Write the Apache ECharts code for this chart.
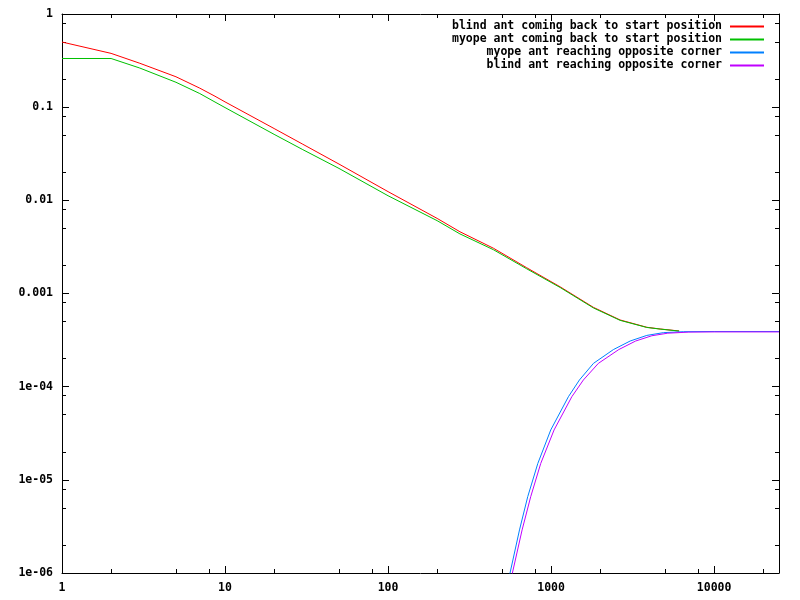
<!DOCTYPE html>
<html>
<head>
<meta charset="utf-8">
<script src="https://cdn.jsdelivr.net/npm/echarts@6/dist/echarts.min.js"></script>
<style>html,body{margin:0;padding:0;background:#fff}#chart{width:800px;height:600px}</style>
</head>
<body>
<div id="chart"></div>
<script>
// ---- data ----
const seriesNames = [
  'blind ant coming back to start position',
  'myope ant coming back to start position',
  'myope ant reaching opposite corner',
  'blind ant reaching opposite corner'
];
const backX = [1, 2, 3, 5, 7, 8.68, 10, 20, 30, 50, 100, 200, 276, 443, 709, 1136, 1818, 2650, 3865, 4665, 6100];
const blindBackY = [0.5, 0.378, 0.296, 0.212, 0.160, 0.131, 0.114, 0.0590, 0.0400, 0.0245, 0.0124, 0.0064, 0.0046, 0.00306, 0.00189, 0.00118, 7.1e-4, 5.2e-4, 4.34e-4, 4.16e-4, 3.96e-4];
const myopeBackY = [0.333, 0.333, 0.263, 0.185, 0.140, 0.1135, 0.0990, 0.0511, 0.0350, 0.0220, 0.0112, 0.00605, 0.00436, 0.00295, 0.00184, 0.00116, 7.0e-4, 5.15e-4, 4.32e-4, 4.15e-4, 3.95e-4];
const myopeCornerX = [500, 560, 640, 719, 829, 995, 1277, 1492, 1820, 2411, 3054, 3865, 4887, 6500, 10000, 25000];
const myopeCornerY = [4e-7, 1e-6, 2.9e-6, 6.6e-6, 1.5e-5, 3.43e-5, 7.8e-5, 1.18e-4, 1.78e-4, 2.5e-4, 3.09e-4, 3.55e-4, 3.8e-4, 3.89e-4, 3.91e-4, 3.91e-4];
const blindCornerX = [520, 579, 664, 750, 864, 1043, 1340, 1578, 1951, 2600, 3300, 4150, 5200, 7000, 10000, 25000];
const blindCornerY = [4e-7, 1e-6, 2.9e-6, 6.6e-6, 1.5e-5, 3.43e-5, 7.8e-5, 1.18e-4, 1.78e-4, 2.5e-4, 3.09e-4, 3.52e-4, 3.75e-4, 3.85e-4, 3.87e-4, 3.87e-4];

const xMin = 1, xMax = 25000, yMin = 1e-6, yMax = 1;
const xTickValues = [1, 10, 100, 1000, 10000];
const xTickLabels = ['1', '10', '100', '1000', '10000'];
const yTickValues = [1e-6, 1e-5, 1e-4, 1e-3, 1e-2, 1e-1, 1];
const yTickLabels = ['1e-06', '1e-05', '1e-04', '0.001', '0.01', '0.1', '1'];
const xMinorTicks = [2, 5, 8, 20, 50, 80, 200, 500, 800, 2000, 5000, 8000, 20000];
const yMinorTicks = [2e-6, 5e-6, 8e-6, 2e-5, 5e-5, 8e-5, 2e-4, 5e-4, 8e-4, 2e-3, 5e-3, 8e-3, 0.02, 0.05, 0.08, 0.2, 0.5, 0.8];
const colors = ['#ff0000', '#00c000', '#0080ff', '#c000ff'];

// ---- chart ----
const FONT = '"DejaVu Sans Mono", "Liberation Mono", monospace';
function pairs(xs, ys) { return xs.map((x, i) => [x, ys[i]]); }
function nearestLabel(vals, labels, v) {
  let best = 0, bd = Infinity;
  vals.forEach((t, i) => { const d = Math.abs(Math.log10(t) - Math.log10(v)); if (d < bd) { bd = d; best = i; } });
  return bd < 0.01 ? labels[best] : '';
}
const lineCol = '#000';
function mkX(pos, opts) {
  return Object.assign({
    type: 'log', logBase: 10, min: xMin, max: xMax, position: pos, gridIndex: 0,
    splitLine: { show: false },
    axisLine: { show: true, onZero: false, lineStyle: { color: lineCol, width: 1 } },
    axisTick: { show: true, inside: true, length: 7, lineStyle: { color: lineCol, width: 1 } },
    axisLabel: { show: false },
    minorTick: { show: false }
  }, opts || {});
}
function mkY(pos, opts) {
  return Object.assign({
    type: 'log', logBase: 10, min: yMin, max: yMax, position: pos, gridIndex: 0,
    splitLine: { show: false },
    axisLine: { show: true, onZero: false, lineStyle: { color: lineCol, width: 1 } },
    axisTick: { show: true, inside: true, length: 7, lineStyle: { color: lineCol, width: 1 } },
    axisLabel: { show: false },
    minorTick: { show: false }
  }, opts || {});
}
const labelStyle = { fontFamily: FONT, fontWeight: 'bold', fontSize: 11.5, color: '#000' };
const minorTickStyle = (vals) => ({ show: true, inside: true, length: 4, customValues: vals, lineStyle: { color: lineCol, width: 1 } });

const chart = echarts.init(document.getElementById('chart'), null, { renderer: 'canvas' });
chart.setOption({
  animation: false,
  backgroundColor: '#fff',
  color: colors,
  grid: { left: 62, right: 21, top: 14, bottom: 27, containLabel: false },
  legend: {
    orient: 'vertical', align: 'right', right: 35, top: 20, padding: 0,
    itemWidth: 34, itemHeight: 10, itemGap: 0,
    itemStyle: { opacity: 0 },
    textStyle: Object.assign({}, labelStyle, { lineHeight: 13, padding: [0, 3, 0, 0] }),
    data: seriesNames
  },
  xAxis: [
    mkX('bottom', {
      axisLabel: Object.assign({ show: true, margin: 9, showMaxLabel: false,
        formatter: v => nearestLabel(xTickValues, xTickLabels, v) }, labelStyle)
    }),
    mkX('top'),
    mkX('bottom', { axisLine: { show: false }, axisTick: minorTickStyle(xMinorTicks) }),
    mkX('top', { axisLine: { show: false }, axisTick: minorTickStyle(xMinorTicks) })
  ],
  yAxis: [
    mkY('left', {
      axisLabel: Object.assign({ show: true, margin: 9,
        formatter: v => nearestLabel(yTickValues, yTickLabels, v) }, labelStyle)
    }),
    mkY('right'),
    mkY('left', { axisLine: { show: false }, axisTick: minorTickStyle(yMinorTicks) }),
    mkY('right', { axisLine: { show: false }, axisTick: minorTickStyle(yMinorTicks) })
  ],
  series: [
    { name: seriesNames[0], type: 'line', data: pairs(backX, blindBackY) },
    { name: seriesNames[1], type: 'line', data: pairs(backX, myopeBackY) },
    { name: seriesNames[2], type: 'line', data: pairs(myopeCornerX, myopeCornerY) },
    { name: seriesNames[3], type: 'line', data: pairs(blindCornerX, blindCornerY) }
  ].map((s, i) => Object.assign(s, {
    xAxisIndex: 0, yAxisIndex: 0, symbol: 'none', smooth: false, clip: true,
    lineStyle: { width: 1, color: colors[i] }, itemStyle: { color: colors[i] }
  }))
});
</script>
</body>
</html>
